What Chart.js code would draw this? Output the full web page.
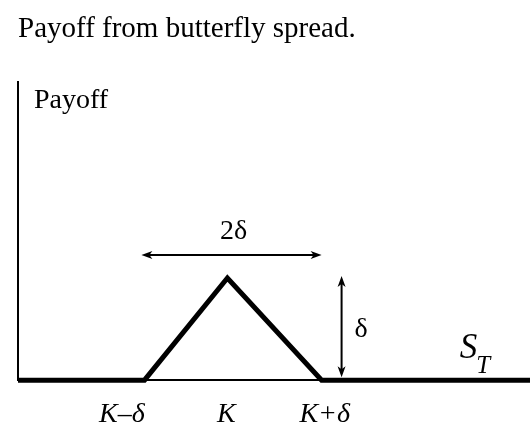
<!DOCTYPE html>
<html lang="en">

<head>
    <meta charset="UTF-8">
    <title>Payoff from butterfly spread</title>
    <script src="https://cdn.jsdelivr.net/npm/chart.js"></script>
    <style>
        html, body { margin: 0; padding: 0; background: #fff; }
        .chart-container { width: 530px; height: 441px; }
    </style>
</head>

<body>
    <div class="chart-container">
        <canvas id="butterflyChart"></canvas>
    </div>

    <script>
        // stock price at expiry (S_T) and the payoff, in delta units
        const stockPrice = [0, 24.7, 40.9, 59.3, 100];
        const payoff = [0, 0, 1, 0, 0];

        // tick labels under the x axis
        const tickValues = [20.3, 40.7, 59.9];
        const tickLabels = ["K\u2013\u03B4", "K", "K+\u03B4"];

        // arrows marking the width (2δ) and the height (δ) of the spread
        const widthArrow = { from: 24.1, to: 59.3, level: 1.225 };
        const heightArrow = { at: 63.2, from: 0.03, to: 1.02 };

        const serif = "'Liberation Serif', 'DejaVu Serif', serif";

        function arrowHead(ctx, x, y, angle) {
            ctx.save();
            ctx.translate(x, y);
            ctx.rotate(angle);
            ctx.beginPath();
            ctx.moveTo(0, 0);
            ctx.lineTo(-11, -4);
            ctx.lineTo(-8, 0);
            ctx.lineTo(-11, 4);
            ctx.closePath();
            ctx.fill();
            ctx.restore();
        }

        // draws the labels and arrows that sit inside the plot
        const notesPlugin = {
            id: "notes",
            afterDatasetsDraw(chart) {
                const ctx = chart.ctx;
                const xs = chart.scales.x;
                const ys = chart.scales.y;
                const area = chart.chartArea;
                ctx.save();
                ctx.fillStyle = "#000";
                ctx.strokeStyle = "#000";
                ctx.lineWidth = 2;

                // "Payoff" label next to the y axis
                ctx.font = "28px " + serif;
                ctx.textBaseline = "alphabetic";
                ctx.textAlign = "left";
                ctx.fillText("Payoff", area.left + 16, area.top + 26);

                // horizontal double arrow
                let x1 = xs.getPixelForValue(widthArrow.from);
                let x2 = xs.getPixelForValue(widthArrow.to);
                let y = ys.getPixelForValue(widthArrow.level);
                ctx.beginPath();
                ctx.moveTo(x1 + 4, y);
                ctx.lineTo(x2 - 4, y);
                ctx.stroke();
                arrowHead(ctx, x1, y, Math.PI);
                arrowHead(ctx, x2, y, 0);

                ctx.font = "28px " + serif;
                ctx.textAlign = "center";
                ctx.fillText("2\u03B4", (x1 + x2) / 2 + 2, y - 16);

                // vertical double arrow
                let x = xs.getPixelForValue(heightArrow.at);
                let y1 = ys.getPixelForValue(heightArrow.from);
                let y2 = ys.getPixelForValue(heightArrow.to);
                ctx.beginPath();
                ctx.moveTo(x, y1 - 4);
                ctx.lineTo(x, y2 + 4);
                ctx.stroke();
                arrowHead(ctx, x, y1, Math.PI / 2);
                arrowHead(ctx, x, y2, -Math.PI / 2);

                ctx.font = "28px " + serif;
                ctx.textAlign = "left";
                ctx.fillText("\u03B4", x + 13, (y1 + y2) / 2 + 10);

                // S_T label at the end of the axis
                const sx = xs.getPixelForValue(86.3);
                const sy = ys.getPixelForValue(0) - 22;
                ctx.font = "italic 35px " + serif;
                ctx.fillText("S", sx, sy);
                const sw = ctx.measureText("S").width;
                ctx.font = "italic 25px " + serif;
                ctx.fillText("T", sx + sw - 1, sy + 15);

                ctx.restore();
            }
        };

        const ctx = document.getElementById("butterflyChart").getContext("2d");
        const butterflyChart = new Chart(ctx, {
            type: "line",
            data: {
                datasets: [
                    {
                        label: "Payoff",
                        data: stockPrice.map((s, i) => ({ x: s, y: payoff[i] })),
                        borderColor: "#000",
                        borderWidth: 5,
                        borderJoinStyle: "miter",
                        pointRadius: 0,
                        tension: 0,
                        fill: false,
                        clip: false,
                    },
                ],
            },
            options: {
                responsive: true,
                maintainAspectRatio: false,
                animation: false,
                layout: {
                    padding: { left: 18, right: 0, top: 0, bottom: -8 },
                },
                plugins: {
                    legend: { display: false },
                    tooltip: { enabled: false },
                    title: {
                        display: true,
                        text: "Payoff from butterfly spread.",
                        align: "start",
                        color: "#000",
                        font: { family: serif, size: 29, weight: "normal" },
                        padding: { top: 12, bottom: 35 },
                    },
                },
                scales: {
                    x: {
                        type: "linear",
                        min: 0,
                        max: 100,
                        grid: { display: false, drawTicks: false },
                        border: { display: true, color: "#000", width: 2 },
                        afterBuildTicks: (axis) => {
                            axis.ticks = tickValues.map((v) => ({ value: v }));
                        },
                        ticks: {
                            color: "#000",
                            padding: 26,
                            maxRotation: 0,
                            autoSkip: false,
                            font: { family: serif, size: 28, style: "italic", lineHeight: 0.6 },
                            callback: (value, index) => tickLabels[index],
                        },
                    },
                    y: {
                        min: 0,
                        max: 2.92,
                        grid: { display: false, drawTicks: false },
                        border: { display: true, color: "#000", width: 2 },
                        ticks: { display: false },
                    },
                },
            },
            plugins: [notesPlugin],
        });
    </script>
</body>

</html>
